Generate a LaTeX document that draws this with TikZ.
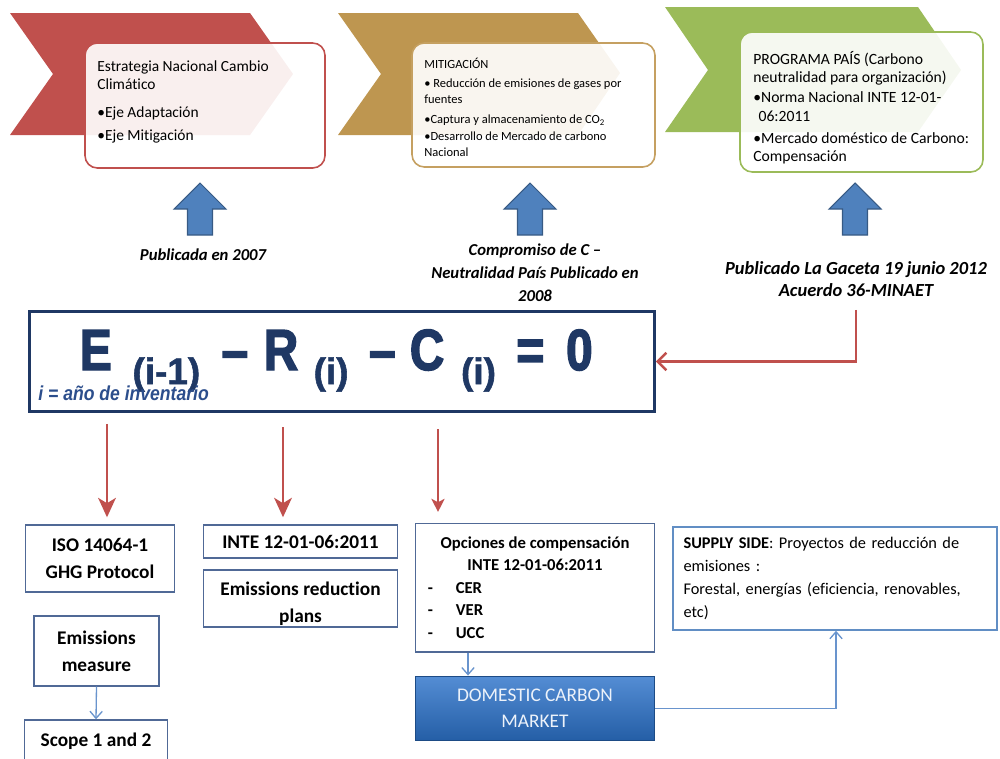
\documentclass[tikz,border=0pt]{standalone}
\usepackage{fontspec}
\setmainfont{Carlito}[Ligatures=NoCommon]
\newfontfamily\eqfont{Liberation Sans Bold}[FakeStretch=0.82,FakeBold=2.5]
\newfontfamily\subfont{Liberation Sans Bold}[FakeBold=1.5]
\newfontfamily\notefont{Liberation Sans Bold Italic}[FakeStretch=0.87]
\usepackage{xcolor}
\usepackage{tikz}
\usetikzlibrary{positioning,calc,arrows.meta}
\definecolor{chred}{RGB}{192,80,77}
\definecolor{chgold}{RGB}{190,150,80}
\definecolor{chgreen}{RGB}{155,187,89}
\definecolor{eqblue}{RGB}{31,56,100}
\definecolor{noteblue}{RGB}{44,78,140}
\definecolor{lowblue}{RGB}{80,105,150}
\definecolor{conblue}{RGB}{105,148,205}
\definecolor{accblue}{RGB}{79,129,189}
\definecolor{domtop}{RGB}{84,141,212}
\definecolor{dombot}{RGB}{36,94,166}
\newcommand{\eqsub}[1]{\raisebox{-8pt}{\subfont\fontsize{21}{21}\selectfont #1}}
\newcommand{\optitem}[1]{\makebox[122pt][l]{-\hspace{13pt}#1}}

\begin{document}
\begin{tikzpicture}[x=0.02cm,y=-0.02cm,
  topbox/.style={rounded corners=7pt,line width=0.9pt,fill=white,fill opacity=0.91},
  toptext/.style={anchor=north west,inner sep=0,align=left},
  blockarrow/.style={fill=accblue,draw=accblue!70!black,line width=0.6pt},
  pubtext/.style={align=center,font=\bfseries\itshape},
  lowbox/.style={draw=lowblue,line width=0.9pt,fill=white,align=center,inner sep=0pt,
    font=\fontsize{11}{15.3}\selectfont\bfseries},
  reddown/.style={draw=chred,line width=1.7pt,-{Stealth[length=11pt,width=10pt,inset=3pt]}},
  bluecon/.style={draw=conblue,line width=0.75pt,-{Straight Barb[length=4pt,width=7pt]}}]
\useasboundingbox (0,0) rectangle (1000,758);

\fill[chred] (10,13) -- (250,13) -- (293,74) -- (250,135) -- (10,135) -- (53,74) -- cycle;
\fill[chgold] (338,13) -- (578,13) -- (620,73) -- (578,135) -- (338,135) -- (381,74) -- cycle;
\fill[chgreen] (665,7) -- (918,7) -- (961,70) -- (918,132) -- (665,132) -- (708,70) -- cycle;

\draw[topbox,draw=chred] (85,43) rectangle (325,168);
\draw[topbox,draw=chgold!90!white] (412,43) rectangle (655,167);
\draw[topbox,draw=chgreen] (740,32) rectangle (983,172);

\node[toptext,font=\fontsize{8.8}{10.2}\selectfont] (t1) at (97,55.5)
  {\rule{0pt}{1em}Estrategia Nacional Cambio\\Climático\\[5.7pt]•Eje Adaptación\\[2.8pt]•Eje Mitigación};
\node[toptext,font=\fontsize{7.1}{9.1}\selectfont] (t2) at (424,55.5)
  {\rule{0pt}{1em}MITIGACIÓN\\[1.7pt]• Reducción de emisiones de gases por\\fuentes\\[2.3pt]•Captura y almacenamiento de CO\textsubscript{2}\\[0.6pt]•Desarrollo de Mercado de carbono\\Nacional};
\node[toptext,font=\fontsize{8.9}{10.2}\selectfont] (t3) at (753,48.3)
  {\rule{0pt}{1em}PROGRAMA PAÍS (Carbono\\neutralidad para organización)\\[1.1pt]•Norma Nacional INTE 12-01-\\[1.1pt]\hspace*{3pt}06:2011\\[2.3pt]•Mercado doméstico de Carbono:\\Compensación};

\foreach \cx in {200,530,855}
\draw[blockarrow] (\cx-12.5,235) -- (\cx-12.5,209) -- (\cx-26,209) -- (\cx,183) -- (\cx+26,209) -- (\cx+12.5,209) -- (\cx+12.5,235) -- cycle;

\node[pubtext,font=\fontsize{9.5}{13}\selectfont\bfseries\itshape] (lab1) at (203,255) {Publicada en 2007};
\node[pubtext,font=\fontsize{9.5}{13}\selectfont\bfseries\itshape] (lab2) at (535,273) {Compromiso de C –\\Neutralidad País Publicado en\\2008};
\node[pubtext,font=\fontsize{10.5}{12.5}\selectfont\bfseries\itshape] (lab3) at (856,279) {Publicado La Gaceta 19 junio 2012\\Acuerdo 36-MINAET};

\node[draw=eqblue,line width=1.7pt,fill=white,minimum width=355.5pt,minimum height=57.3pt,inner sep=0] (eqbox) at (342,361.5) {};
\node[anchor=base west,inner sep=0,text=eqblue] (eq) at (79.6,370)
  {\eqfont\fontsize{33}{33}\selectfont E\hspace{11.9pt}\eqsub{(i-1)}\hspace{12.2pt}–\hspace{9pt}R\hspace{8.8pt}\eqsub{(i)}\hspace{11.7pt}–\hspace{8.2pt}C\hspace{9.6pt}\eqsub{(i)}\hspace{11.7pt}=\hspace{12.5pt}0};
\node[anchor=base west,inner sep=0,text=noteblue,font=\notefont\fontsize{11.5}{11.5}\selectfont] (note) at (38,400) {i = año de inventario};

\draw[draw=chred,line width=1.4pt,-{Straight Barb[length=5pt,width=10pt]},shorten <=4pt] (lab3.south) |- (eqbox.east);

\node[lowbox,minimum width=85pt,minimum height=38pt] (iso) at (100,558.5) {ISO 14064-1\\GHG Protocol};
\node[lowbox,minimum width=70.9pt,minimum height=39.7pt] (meas) at (96.5,651) {Emissions\\measure};
\node[lowbox,minimum width=81.6pt,minimum height=23.8pt] (scope) at (96,741) {Scope 1 and 2};
\node[lowbox,minimum width=110.6pt,minimum height=18.7pt] (inte) at (300.5,541.5) {INTE 12-01-06:2011};
\node[lowbox,minimum width=110.6pt,minimum height=32.3pt] (erp) at (300.5,598.5) {};
\node[align=center,inner sep=0,font=\fontsize{11}{15.3}\selectfont\bfseries] (erptext) at (300.5,604) {Emissions reduction\\plans};
\node[lowbox,font=\fontsize{9.5}{12.8}\selectfont\bfseries,minimum width=136pt,minimum height=73.1pt] (opc) at (535,587.5)
  {Opciones de compensación\\INTE 12-01-06:2011\\\optitem{CER}\\\optitem{VER}\\\optitem{UCC}};
\node[draw=dombot!80!black,line width=0.6pt,top color=domtop,bottom color=dombot,
  minimum width=136pt,minimum height=36.9pt,inner sep=0,align=center,text={rgb,255:red,236;green,242;blue,250},
  font=\fontsize{11}{14.7}\selectfont] (dom) at (535,708.5) {DOMESTIC CARBON\\MARKET};
\node[draw=accblue!90!white,line width=1.1pt,fill=white,minimum height=58.4pt,text width=172.4pt,inner xsep=6.2pt,
  align=left,font=\fontsize{9.3}{13.2}\selectfont] (sup) at (835,578.5)
  {\textbf{SUPPLY SIDE}: Proyectos de reducción de\\emisiones :\\Forestal, energías (eficiencia, renovables,\\etc)};

\coordinate (d1) at (107,0);
\coordinate (d2) at (283,0);
\coordinate (d3) at (438,0);
\coordinate (c1) at (468,0);
\coordinate (c2) at (836,0);
\draw[reddown,shorten <=6pt,shorten >=4pt] (eqbox.south -| d1) -- (iso.north -| d1);
\draw[reddown,shorten <=8pt,shorten >=4pt] (eqbox.south -| d2) -- (inte.north -| d2);
\draw[draw=chred,line width=1.1pt,-{Stealth[length=7.5pt,width=7.5pt,inset=2pt]},shorten <=9pt,shorten >=6pt] (eqbox.south -| d3) -- (opc.north -| d3);

\draw[bluecon] (meas.south) -- (scope.north);
\draw[bluecon] (opc.south -| c1) -- (dom.north -| c1);
\draw[bluecon] (dom.east) -| (sup.south -| c2);
\end{tikzpicture}
\end{document}
